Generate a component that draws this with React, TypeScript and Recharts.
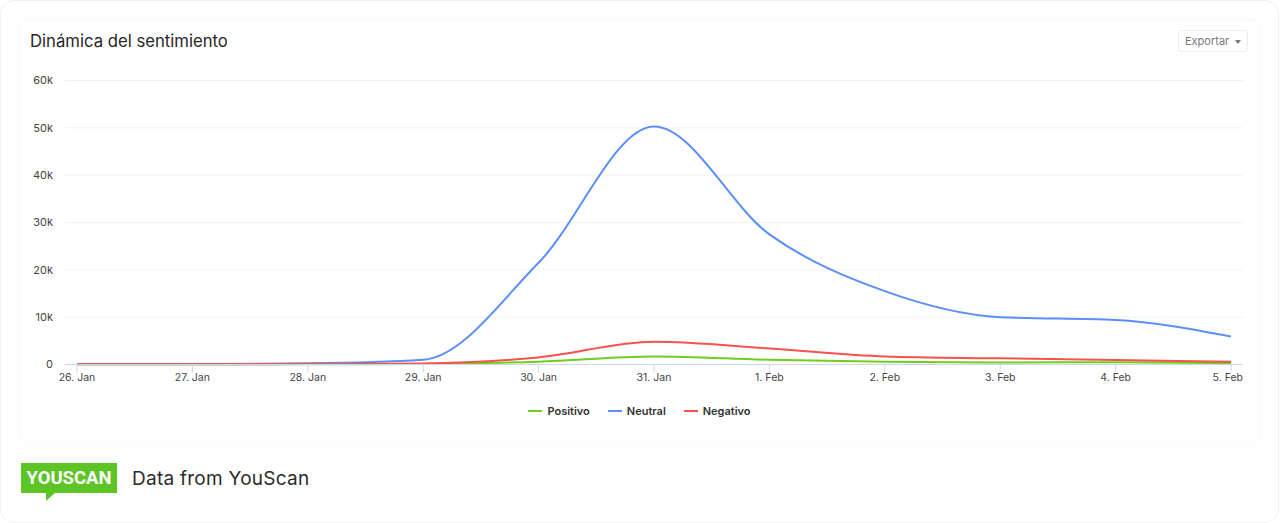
import React from 'react';
import { LineChart, Line, XAxis, YAxis, CartesianGrid, Legend } from 'recharts';

const days = [0, 1, 2, 3, 4, 5, 6, 7, 8, 9, 10];
const dayLabels = ['26. Jan', '27. Jan', '28. Jan', '29. Jan', '30. Jan', '31. Jan', '1. Feb', '2. Feb', '3. Feb', '4. Feb', '5. Feb'];
const positivo = [50, 50, 60, 100, 600, 1700, 1000, 600, 400, 500, 300];
const neutral = [100, 100, 250, 1000, 21500, 50300, 27500, 15500, 10000, 9400, 5900];
const negativo = [50, 50, 80, 200, 1500, 4800, 3400, 1700, 1300, 950, 600];
const yTicks = [0, 10000, 20000, 30000, 40000, 50000, 60000];
const legendOrder = ['Positivo', 'Neutral', 'Negativo'];

const data = days.map((d, i) => ({ day: d, Positivo: positivo[i], Neutral: neutral[i], Negativo: negativo[i] }));

const FONT = 'Inter, sans-serif';

const renderLegend = (props: any) => (
  <div style={{ display: 'flex', justifyContent: 'center', gap: 18, fontFamily: FONT, fontSize: 11, fontWeight: 600, color: '#333' }}>
    {legendOrder.map((name) => {
      const p = props.payload.find((x: any) => x.value === name);
      return (
        <span key={name} style={{ display: 'flex', alignItems: 'center', gap: 5 }}>
          <span style={{ width: 14, height: 2, background: p?.color, display: 'inline-block' }} />
          {name}
        </span>
      );
    })}
  </div>
);

// the last label is pulled back so it stops at the plot edge
const renderXTick = (props: any) => {
  const { x, y, payload } = props;
  return (
    <text x={payload.value === 10 ? x + 12 : x} y={y + 6} textAnchor={payload.value === 10 ? 'end' : 'middle'} fontSize={10.5} fill="#444" fontFamily={FONT}>
      {dayLabels[payload.value]}
    </text>
  );
};

export default function App() {
  return (
    <div style={{ position: 'absolute', left: 0, top: 0, width: 1280, height: 523, background: '#fff', fontFamily: FONT, overflow: 'hidden' }}>
      <div style={{ position: 'absolute', left: 0, top: 0, width: 1277, height: 521, border: '1px solid #f1f1f1', borderRadius: 14 }} />
      <div style={{ position: 'absolute', left: 21, top: 21, width: 1237, height: 420, background: '#fff', borderRadius: 6, boxShadow: '0 0 14px rgba(0,0,0,0.035)' }} />
      <div style={{ position: 'absolute', left: 30, top: 31, fontSize: 16.7, fontWeight: 400, color: '#262626', lineHeight: '20px', whiteSpace: 'nowrap' }}>
        Dinámica del sentimiento
      </div>
      <div style={{ position: 'absolute', left: 1178, top: 30, width: 70, height: 22, border: '1px solid #eeeeee', borderRadius: 3, fontSize: 11, color: '#777', lineHeight: '21px', paddingLeft: 6, boxSizing: 'border-box', whiteSpace: 'nowrap' }}>
        Exportar
        <span style={{ position: 'absolute', left: 56, top: 9, width: 0, height: 0, borderLeft: '3.5px solid transparent', borderRight: '3.5px solid transparent', borderTop: '4px solid #777' }} />
      </div>

      <div style={{ position: 'absolute', left: 0, top: 0 }}>
        <LineChart width={1280} height={440} data={data} margin={{ top: 80.5, right: 37, bottom: 25.5, left: 0 }}>
          <CartesianGrid horizontal vertical={false} stroke="#f2f2f2" strokeWidth={1} />
          <XAxis
            dataKey="day"
            type="number"
            domain={[-0.104, 10.104]}
            ticks={days}
            interval={0}
            allowDataOverflow
            height={36}
            tick={renderXTick}
            stroke="#ccd6eb"
            tickSize={8}
            tickMargin={2}
          />
          <YAxis
            type="number"
            domain={[0, 60000]}
            ticks={yTicks}
            width={65}
            axisLine={false}
            tickLine={false}
            tickMargin={13}
            tickFormatter={(v: number) => (v === 0 ? '0' : `${v / 1000}k`)}
            tick={{ fontSize: 11, fill: '#444', fontFamily: FONT, dx: 7 }}
          />
          <Legend content={renderLegend} wrapperStyle={{ left: 0, top: 404, width: 1279 }} />
          <Line type="monotone" dataKey="Positivo" stroke="#6fcf1e" strokeWidth={2} dot={false} isAnimationActive={false} />
          <Line type="monotone" dataKey="Neutral" stroke="#5b8ff9" strokeWidth={2} dot={false} isAnimationActive={false} />
          <Line type="monotone" dataKey="Negativo" stroke="#f8524c" strokeWidth={2} dot={false} isAnimationActive={false} />
        </LineChart>
      </div>

      <div style={{ position: 'absolute', left: 21, top: 463, width: 96, height: 30, background: '#5cc424', color: '#fff', fontFamily: 'Roboto, sans-serif', fontWeight: 700, fontSize: 18.5, lineHeight: '30px', textAlign: 'center' }}>
        YOUSCAN
      </div>
      <div style={{ position: 'absolute', left: 46, top: 493, width: 0, height: 0, borderRight: '9px solid transparent', borderTop: '8px solid #5cc424' }} />
      <div style={{ position: 'absolute', left: 132, top: 467, fontSize: 19, letterSpacing: 0.25, color: '#2b2b2b', lineHeight: '24px', whiteSpace: 'nowrap' }}>
        Data from YouScan
      </div>
    </div>
  );
}
